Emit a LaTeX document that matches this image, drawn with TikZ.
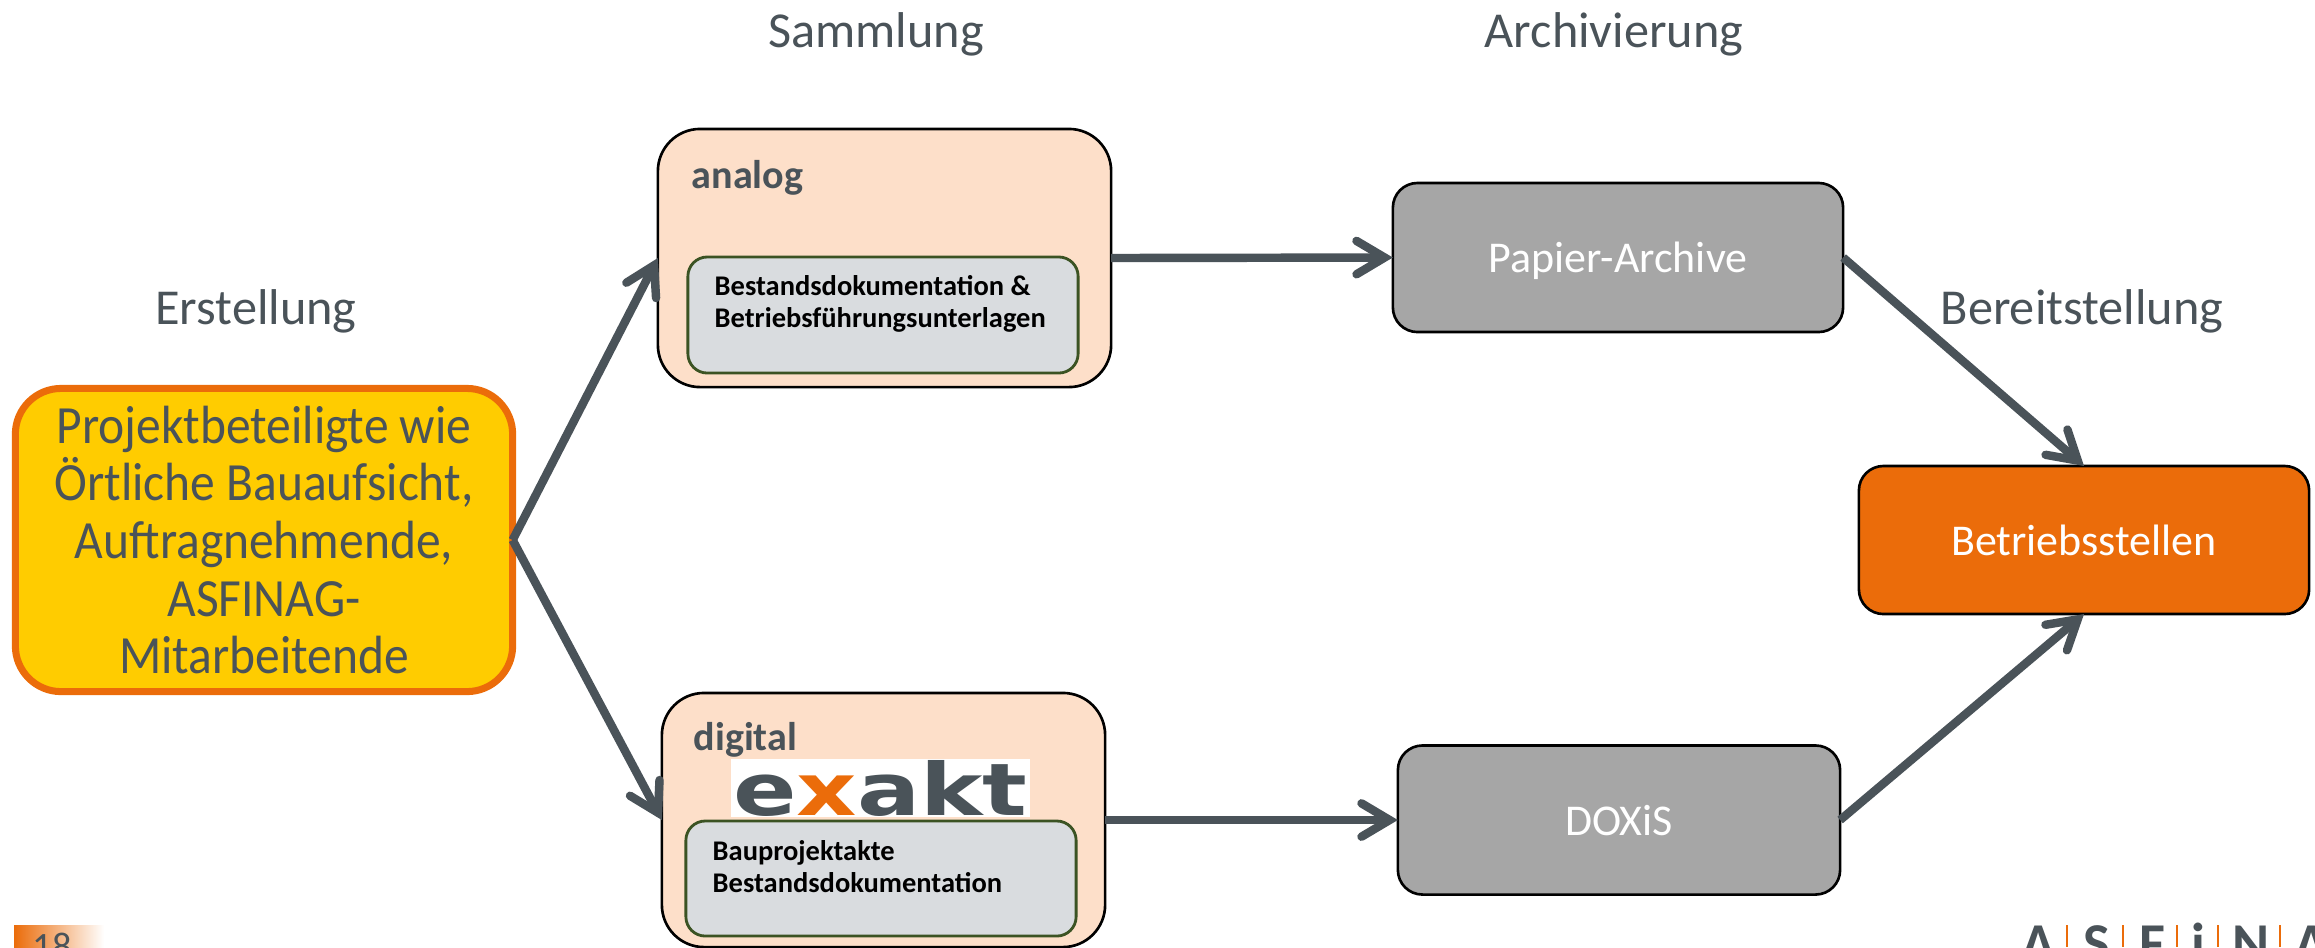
\documentclass[tikz,border=0pt]{standalone}
\usepackage{fontspec}
\usepackage{graphicx}
\setmainfont{Carlito}
\newfontfamily\narrowfont[FakeStretch=0.92]{Carlito}
\newfontfamily\logofont{DejaVu Sans}
\usetikzlibrary{arrows.meta}
\definecolor{slategray}{HTML}{4A5359}
\definecolor{asforange}{HTML}{EB6C0A}
\definecolor{actoryellow}{HTML}{FFCC00}
\definecolor{groupfill}{HTML}{FDDFC9}
\definecolor{innerfill}{HTML}{D9DCDF}
\definecolor{innerline}{HTML}{3B5323}
\definecolor{archivegray}{HTML}{A6A6A6}
\tikzset{
    phase/.style={text=slategray,font=\fontsize{14.3pt}{17pt}\selectfont},
    actorbox/.style={draw=asforange,line width=2pt,fill=actoryellow,rounded corners=13pt,minimum width=4.97cm,minimum height=3.03cm,text=slategray,align=center,outer sep=0pt,inner sep=0pt,font=\narrowfont\fontsize{15.3pt}{16.4pt}\selectfont},
    groupbox/.style={draw=black,line width=.75pt,fill=groupfill,rounded corners=12pt,outer sep=0pt},
    innerbox/.style={draw=innerline,line width=.8pt,fill=innerfill,rounded corners=5.5pt,outer sep=0pt},
    archivebox/.style={draw=black,line width=.75pt,fill=archivegray,rounded corners=7pt,minimum width=4.5cm,minimum height=1.49cm,text=white,text depth=0pt,outer sep=0pt,font=\fontsize{12.5pt}{14pt}\selectfont},
    grouplabel/.style={anchor=base west,inner sep=0pt,text=slategray,font=\bfseries\fontsize{11.4pt}{13pt}\selectfont},
    innerlabel/.style={anchor=north west,inner sep=0pt,align=left,text=black,font=\bfseries\fontsize{8.1pt}{9.1pt}\selectfont},
    flow/.style={draw=slategray,line width=2.4pt,-{Straight Barb[length=8pt,width=9.5pt,line cap=round]}},
    logoletter/.style={anchor=base,inner sep=0pt,text=slategray,font=\bfseries\fontsize{16pt}{18pt}\selectfont},
    logobar/.style={draw=asforange,line width=.8pt}
}
\begin{document}
\begin{tikzpicture}[x=.01cm,y=-.01cm]
    \useasboundingbox (0,0) rectangle (2315,947);
    \clip (0,0) rectangle (2315,947);
    % phases
    \node[phase] (erstellung) at (256,311) {Erstellung};
    \node[phase] (sammlung) at (876,34) {Sammlung};
    \node[phase] (archivierung) at (1614,34) {Archivierung};
    \node[phase] (bereitstellung) at (2082,311) {Bereitstellung};
    % boxes
    \node[actorbox] (actor) at (264,540) {Projektbeteiligte wie\\Örtliche Bauaufsicht,\\Auftragnehmende,\\ASFINAG-\\Mitarbeitende};
    \node[groupbox,minimum width=4.53cm,minimum height=2.58cm] (analog) at (884.5,258) {};
    \node[groupbox,minimum width=4.43cm,minimum height=2.54cm] (digital) at (883.5,820) {};
    \node[innerbox,minimum width=3.9cm,minimum height=1.16cm] (analoginner) at (883,315) {};
    \node[innerbox,minimum width=3.9cm,minimum height=1.15cm] (digitalinner) at (881,878.5) {};
    \node[grouplabel] (analoglabel) at (691,188) {analog};
    \node[grouplabel] (digitallabel) at (693,750) {digital};
    \node[innerlabel] (analogtext) at (714,275) {Bestandsdokumentation \&\\Betriebsführungsunterlagen};
    \node[innerlabel] (digitaltext) at (712,840) {Bauprojektakte\\Bestandsdokumentation};
    % exakt logo
    \node[fill=white,minimum width=2.99cm,minimum height=.58cm,inner sep=0pt,outer sep=0pt] (logo) at (880.5,788) {\resizebox{2.94cm}{.55cm}{\logofont\bfseries\textcolor{slategray}{e}\textcolor{asforange}{x}\textcolor{slategray}{akt}}};
    \node[archivebox] (papier) at (1618,257.5) {Papier-Archive};
    \node[archivebox,minimum width=4.42cm] (doxis) at (1619,820) {DOXiS};
    \node[archivebox,fill=asforange,minimum height=1.48cm] (betrieb) at (2084,540) {Betriebsstellen};
    % connectors
    \draw[flow] (actor.east) -- (analog.west);
    \draw[flow] (actor.east) -- (digital.west);
    \draw[flow] (analog.east) -- (papier.west);
    \draw[flow] (digital.east) -- (doxis.west);
    \draw[flow] (papier.east) -- (betrieb.north);
    \draw[flow] (doxis.east) -- (betrieb.south);
    % page number
    \shade[left color=asforange,right color=white] (14,925) rectangle (104,947);
    \node[anchor=base,inner sep=0pt,text=slategray,font=\fontsize{11pt}{14pt}\selectfont] (pagenumber) at (52,959) {18};
    % asfinag logo
    \node[logoletter] (a) at (2039,962) {A};
    \node[logoletter] (s) at (2097,962) {S};
    \node[logoletter] (f) at (2152,962) {F};
    \node[logoletter] (i) at (2198,962) {i};
    \node[logoletter] (n) at (2251,962) {N};
    \node[logoletter] (aa) at (2312,962) {A};
    \foreach \barx in {2067,2123,2177,2218,2280}
        \draw[logobar] (\barx,925) -- (\barx,947);
\end{tikzpicture}
\end{document}
